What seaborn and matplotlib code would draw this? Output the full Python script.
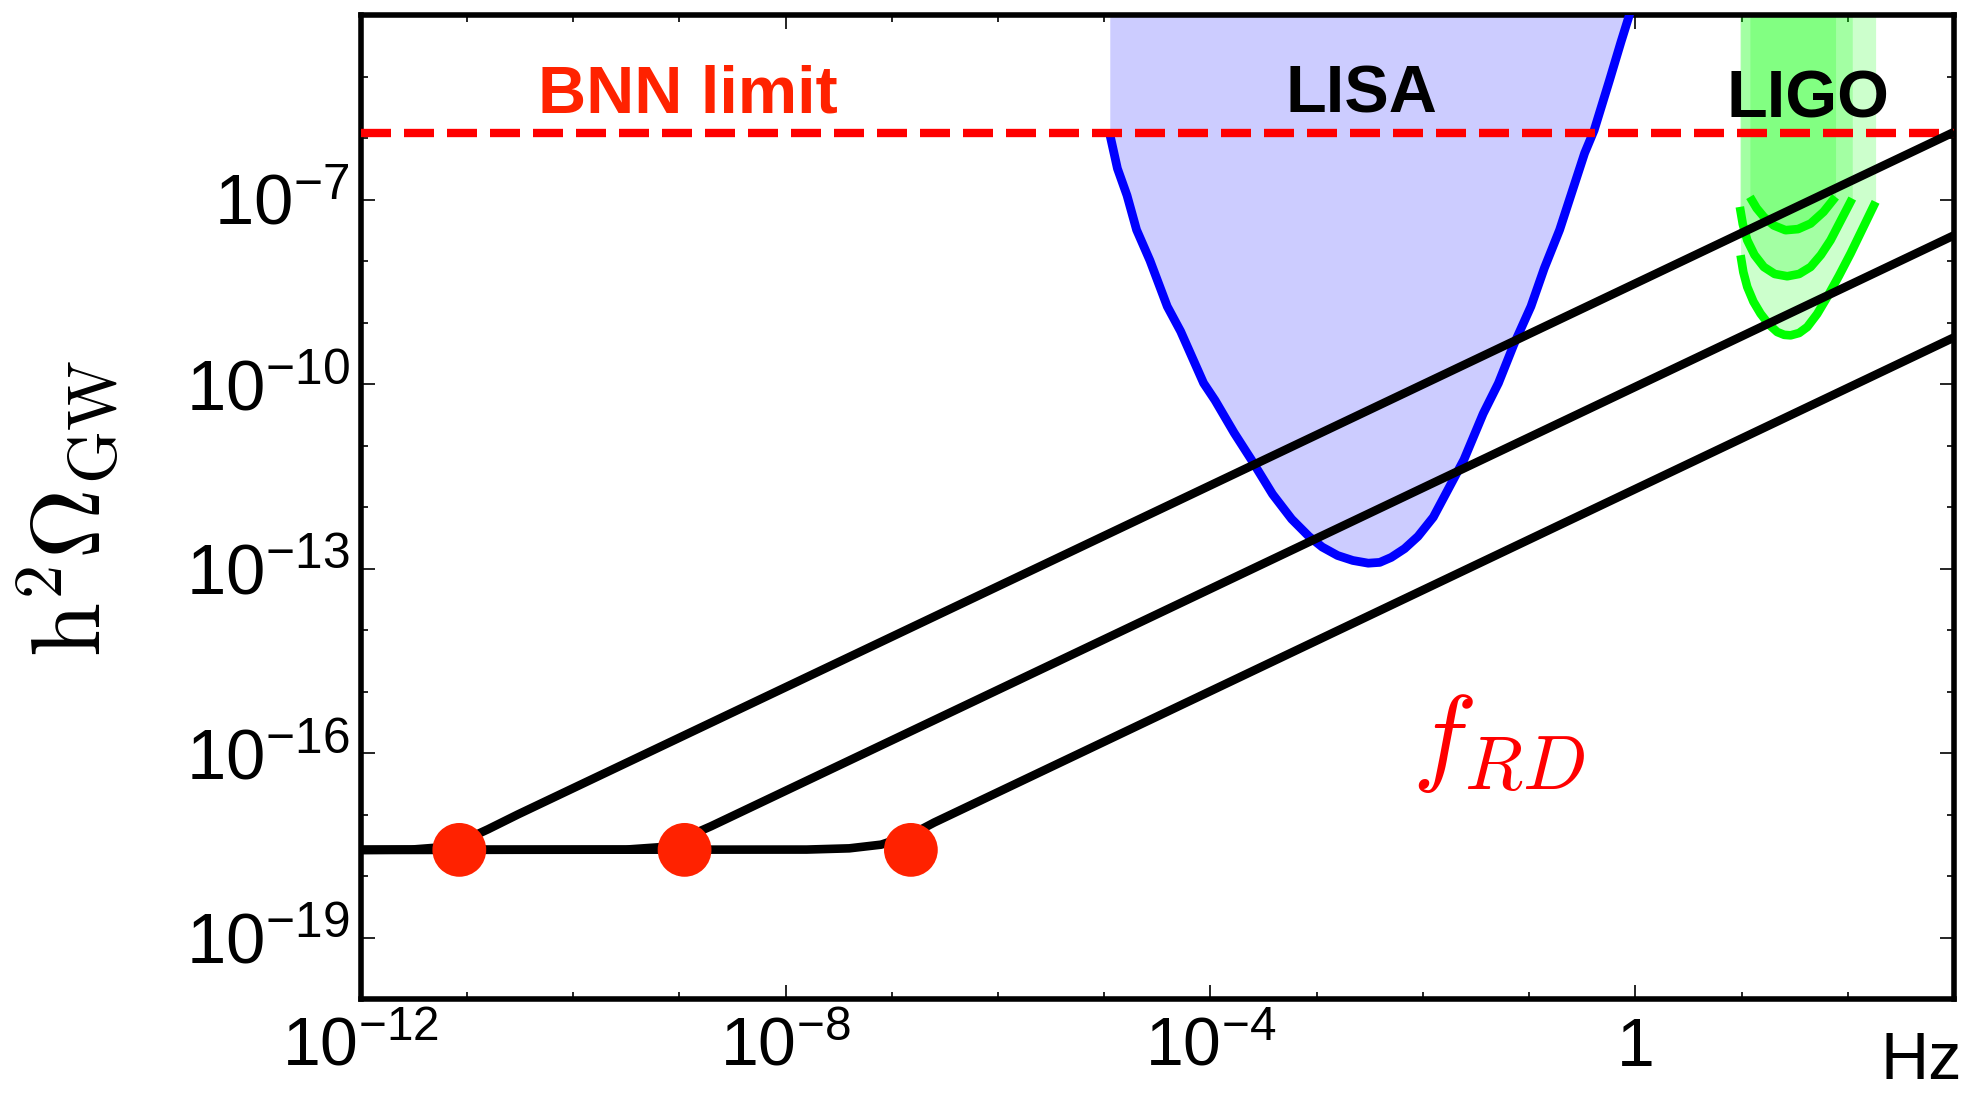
import numpy as np
import seaborn as sns
import matplotlib.pyplot as plt
from matplotlib.ticker import FixedLocator, FixedFormatter, NullFormatter

# values, stored as log10 numbers
bnn_limit = -5.92            # log10 h^2 Omega of the BNN line

# three spectra (log10 f [Hz], log10 h^2 Omega_GW)
spec1_logf = [-12.0, -11.52, -11.22, -11.0, -10.8, -10.52, 3.0]
spec1_logom = [-17.575, -17.57, -17.53, -17.40, -17.24, -17.0, -5.90]
spec2_logf = [-12.0, -9.5, -9.17, -8.95, -8.7, 3.0]
spec2_logom = [-17.575, -17.57, -17.53, -17.38, -17.19, -7.58]
spec3_logf = [-12.0, -7.8, -7.4, -7.1, -6.82, -6.6, 3.0]
spec3_logom = [-17.575, -17.57, -17.55, -17.49, -17.33, -17.13, -9.24]

# f_RD markers
frd_logf = [-11.07, -8.95, -6.82]
frd_logom = [-17.575, -17.575, -17.575]

# LISA sensitivity curve
lisa_logf = [-4.948, -4.876, -4.786, -4.696, -4.570, -4.407, -4.281, -4.065,
             -3.957, -3.777, -3.615, -3.416, -3.236, -3.074, -2.948, -2.804,
             -2.660, -2.515, -2.407, -2.299, -2.173, -2.047, -1.903, -1.615,
             -1.434, -1.290, -1.146, -0.984, -0.858, -0.714, -0.479, -0.389,
             -0.245, -0.137, -0.047]
lisa_logom = [-5.935, -6.495, -6.932, -7.492, -7.991, -8.738, -9.143, -9.985,
              -10.265, -10.795, -11.231, -11.791, -12.196, -12.477, -12.651, -12.788,
              -12.869, -12.913, -12.900, -12.819, -12.676, -12.477, -12.165, -11.231,
              -10.483, -9.985, -9.361, -8.738, -8.115, -7.492, -6.246, -5.872,
              -5.062, -4.439, -3.941]

# LIGO curves (three runs)
ligoA_logf = [1.077, 1.140, 1.208, 1.300, 1.412, 1.530, 1.648, 1.770, 1.883]
ligoA_logom = [-6.956, -7.140, -7.282, -7.420, -7.498, -7.480, -7.390, -7.200, -6.956]
ligoB_logf = [0.982, 1.010, 1.052, 1.120, 1.208, 1.310, 1.428, 1.540, 1.648, 1.745, 1.836, 2.040]
ligoB_logom = [-7.119, -7.400, -7.661, -7.900, -8.096, -8.210, -8.247, -8.210, -8.096, -7.900, -7.661, -6.983]
ligoC_logf = [0.989, 1.015, 1.052, 1.110, 1.177, 1.255, 1.334, 1.400, 1.460, 1.540, 1.617, 1.710, 1.805, 1.915, 2.024, 2.260]
ligoC_logom = [-7.905, -8.180, -8.421, -8.660, -8.855, -9.030, -9.154, -9.200, -9.208, -9.170, -9.072, -8.860, -8.584, -8.240, -7.878, -7.037]

# axis ticks
xmajor = [-12, -8, -4, 0]
xmajor_labels = [r'$10^{-12}$', r'$10^{-8}$', r'$10^{-4}$', '1']
ymajor = [-19, -16, -13, -10, -7]
ymajor_labels = [r'$10^{-19}$', r'$10^{-16}$', r'$10^{-13}$', r'$10^{-10}$', r'$10^{-7}$']


def p(v):
    return np.power(10.0, np.asarray(v, dtype=float))


def line(lf, lo, color, width, z):
    sns.lineplot(x=p(lf), y=p(lo), color=color, estimator=None, sort=False,
                 ax=ax, zorder=z)
    ax.lines[-1].set_linewidth(width)
    ax.lines[-1].set_solid_capstyle('butt')


sns.set_theme(style='ticks')
plt.rcParams['font.family'] = ['Liberation Sans', 'DejaVu Sans']
plt.rcParams['mathtext.fontset'] = 'custom'
plt.rcParams['mathtext.rm'] = 'Liberation Sans'
plt.rcParams['mathtext.it'] = 'Liberation Sans:italic'
plt.rcParams['mathtext.bf'] = 'Liberation Sans:bold'
plt.rcParams['text.color'] = 'black'

fig = plt.figure(figsize=(19.7, 10.93), dpi=100)
ax = fig.add_axes([0.183, 0.086, 0.809, 0.9002])
ax.set_xscale('log')
ax.set_yscale('log')
ax.set_xlim(1e-12, 1e3)
ax.set_ylim(1e-20, 1e-4)

# LISA region
ax.fill_between(p(lisa_logf), p(lisa_logom), 1e-4, color='#ccccff', lw=0, zorder=1)
line(lisa_logf, lisa_logom, '#0000ff', 6.3, 3)

# LIGO regions
for lf, lo in [(ligoC_logf, ligoC_logom), (ligoB_logf, ligoB_logom), (ligoA_logf, ligoA_logom)]:
    ax.fill_between(p(lf), p(lo), 1e-4, color='#00ff00', alpha=0.2, lw=0, zorder=1)
    line(lf, lo, '#00ff00', 6.2, 2)

# BNN limit
ax.axhline(10 ** bnn_limit, color='#ff0000', linewidth=6.0, dashes=(3.6, 1.56), zorder=4)

# spectra
for lf, lo in [(spec1_logf, spec1_logom), (spec2_logf, spec2_logom), (spec3_logf, spec3_logom)]:
    line(lf, lo, 'black', 6.2, 5)

sns.scatterplot(x=p(frd_logf), y=p(frd_logom), s=1500, color='#ff2200',
                edgecolor='none', linewidth=0, ax=ax, zorder=6)

# labels inside
ax.text(10 ** -10.33, 10 ** -5.59, 'BNN limit', color='#ff2200', fontsize=48,
        fontweight='bold', ha='left', va='baseline', zorder=7)
ax.text(10 ** -2.58, 10 ** -5.59, 'LISA', color='black', fontsize=48,
        fontweight='bold', ha='center', va='baseline', zorder=7)
ax.text(10 ** 1.62, 10 ** -5.66, 'LIGO', color='black', fontsize=48,
        fontweight='bold', ha='center', va='baseline', zorder=7)
ax.text(10 ** -2.1, 10 ** -16.29, r'$f_{RD}$', color='#ff0000', fontsize=78,
        math_fontfamily='cm', ha='left', va='baseline', zorder=7)

# ticks
ax.xaxis.set_major_locator(FixedLocator(p(xmajor)))
ax.xaxis.set_major_formatter(FixedFormatter(xmajor_labels))
ax.xaxis.set_minor_locator(FixedLocator(p(np.arange(-12, 4))))
ax.xaxis.set_minor_formatter(NullFormatter())
ax.yaxis.set_major_locator(FixedLocator(p(ymajor)))
ax.yaxis.set_major_formatter(FixedFormatter(ymajor_labels))
ax.yaxis.set_minor_locator(FixedLocator(p(np.arange(-20, -3))))
ax.yaxis.set_minor_formatter(NullFormatter())

ax.tick_params(which='both', direction='in', top=True, right=True,
               color='black', width=1.2, labelcolor='black')
ax.tick_params(which='major', length=10)
ax.tick_params(which='minor', length=5)
ax.tick_params(axis='x', which='major', labelsize=49, pad=12)
ax.tick_params(axis='y', which='major', labelsize=51, pad=8)

for s in ax.spines.values():
    s.set_linewidth(4.0)
    s.set_color('black')

fig.text(0.035, 0.535, r'$\mathrm{h}^2\Omega_{\mathrm{GW}}$', rotation=90,
         math_fontfamily='cm', fontsize=70, ha='center', va='center')
fig.text(0.9545, 0.0, 'Hz', fontsize=48, ha='left', va='bottom')

fig.savefig('out.png', dpi=100)
